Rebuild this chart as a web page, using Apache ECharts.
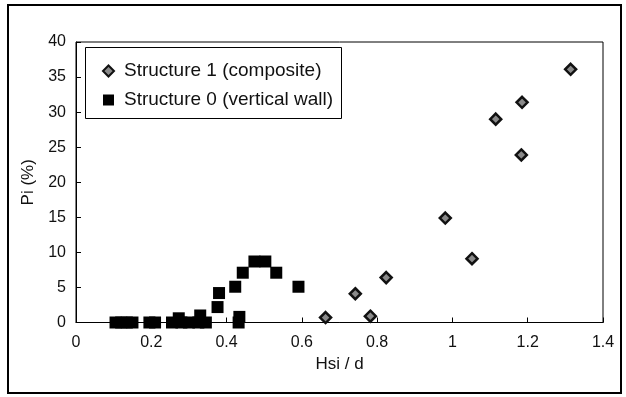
<!DOCTYPE html>
<html>
<head>
<meta charset="utf-8">
<script src="https://cdn.jsdelivr.net/npm/echarts@6/dist/echarts.min.js"></script>
<style>html,body{margin:0;padding:0;background:#fff;}#c{width:626px;height:397px;}</style>
</head>
<body>
<div id="c"></div>
<script>
// Structure 1 (composite): [Hsi/d, Pi %]
const structure1 = [
  [0.663, 0.7], [0.742, 4.1], [0.782, 0.9], [0.824, 6.4], [0.981, 14.9],
  [1.052, 9.1], [1.115, 29.0], [1.183, 23.9], [1.185, 31.4], [1.314, 36.1]
];
// Structure 0 (vertical wall)
const structure0 = [
  [0.105, 0], [0.12, 0], [0.135, 0], [0.15, 0], [0.195, 0], [0.21, 0],
  [0.255, 0], [0.273, 0.6], [0.28, 0], [0.30, 0], [0.325, 0], [0.33, 1.0],
  [0.345, 0], [0.376, 2.2], [0.38, 4.2], [0.423, 5.1], [0.432, 0], [0.434, 0.8],
  [0.443, 7.1], [0.474, 8.7], [0.503, 8.7], [0.532, 7.1], [0.591, 5.1]
];
const seriesNames = ['Structure 1 (composite)', 'Structure 0 (vertical wall)'];
const xTicks = [0, 0.2, 0.4, 0.6, 0.8, 1, 1.2, 1.4];
const yTicks = [0, 5, 10, 15, 20, 25, 30, 35, 40];

const font = 'Liberation Sans, Arial, Helvetica, sans-serif';
const chart = echarts.init(document.getElementById('c'), null, {renderer: 'canvas'});
chart.setOption({
  animation: false,
  backgroundColor: '#fff',
  grid: {left: 76, right: 23, top: 42, bottom: 74.5, show: true, borderColor: '#000', borderWidth: 1},
  xAxis: {
    type: 'value', min: xTicks[0], max: xTicks[xTicks.length - 1], interval: 0.2,
    name: 'Hsi / d', nameLocation: 'middle', nameGap: 31,
    nameTextStyle: {fontFamily: font, fontSize: 17, color: '#111'},
    axisLine: {show: true, lineStyle: {color: '#000', width: 1}},
    axisTick: {show: true, inside: true, length: 5, lineStyle: {color: '#000'}},
    axisLabel: {fontFamily: font, fontSize: 16, color: '#111', margin: 12,
      formatter: v => String(+v.toFixed(1))},
    splitLine: {show: false}
  },
  yAxis: {
    type: 'value', min: yTicks[0], max: yTicks[yTicks.length - 1], interval: 5,
    name: 'Pi (%)', nameLocation: 'middle', nameGap: 31,
    nameTextStyle: {fontFamily: font, fontSize: 17, color: '#111'},
    axisLine: {show: true, lineStyle: {color: '#000', width: 1}},
    axisTick: {show: true, inside: true, length: 5, lineStyle: {color: '#000'}},
    axisLabel: {fontFamily: font, fontSize: 16, color: '#111', margin: 10},
    splitLine: {show: false}
  },
  legend: {
    orient: 'vertical', left: 102, top: 61, itemWidth: 11, itemHeight: 11, itemGap: 9,
    padding: 0,
    textStyle: {fontFamily: font, fontSize: 19, color: '#111', lineHeight: 20, padding: [0, 0, 0, 5]},
    data: [{name: seriesNames[0], icon: 'diamond'}, {name: seriesNames[1], icon: 'rect'}]
  },
  graphic: [
    {type: 'rect', shape: {x: 8, y: 5, width: 613, height: 388}, style: {fill: null, stroke: '#000', lineWidth: 2}, silent: true, z: -1},
    {type: 'rect', shape: {x: 85.5, y: 47.5, width: 256, height: 71}, style: {fill: '#fff', stroke: '#000', lineWidth: 1}, silent: true, z: 1}
  ],
  series: [
    {
      name: seriesNames[0], type: 'scatter', data: structure1, symbol: 'diamond', symbolSize: 11,
      itemStyle: {color: '#8a8a8a', borderColor: '#111', borderWidth: 2.5, opacity: 1}, z: 3
    },
    {
      name: seriesNames[1], type: 'scatter', data: structure0, symbol: 'rect', symbolSize: 12,
      itemStyle: {color: '#000', opacity: 1}, z: 3
    }
  ]
});
</script>
</body>
</html>
